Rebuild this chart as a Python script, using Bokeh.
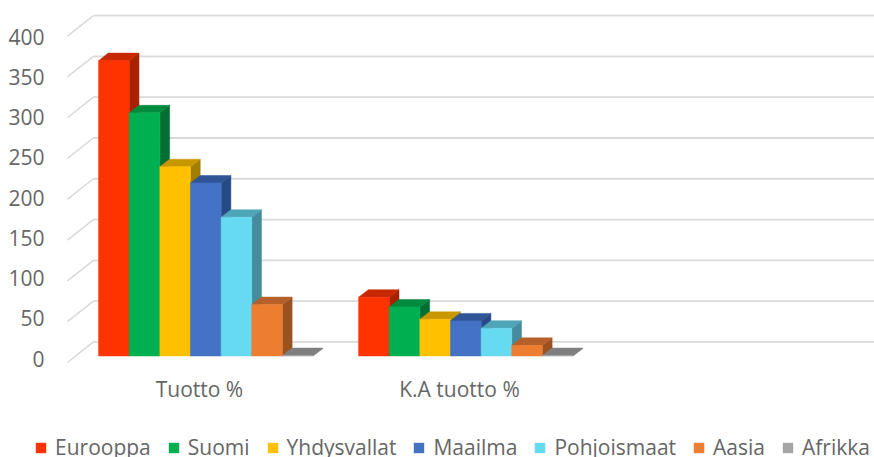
from bokeh.embed import file_html
from bokeh.resources import INLINE
from bokeh.layouts import column
from bokeh.plotting import figure
from bokeh.models import Range1d, LinearAxis, FixedTicker, Legend, LegendItem, Spacer

categories = ["Tuotto %", "K.A tuotto %"]
series = ["Eurooppa", "Suomi", "Yhdysvallat", "Maailma", "Pohjoismaat", "Aasia", "Afrikka"]
tuotto = [362, 298, 232, 212, 170, 63, 0.5]
ka_tuotto = [72, 60, 45, 43, 34, 13, 0.5]
y_ticks = [0, 50, 100, 150, 200, 250, 300, 350, 400]

front_colors = ["#FF3300", "#00B050", "#FFC000", "#4472C4", "#66DAF0", "#ED7D31", "#A5A5A5"]
top_colors = ["#C82800", "#008A3E", "#C89700", "#2F5597", "#4FA5B8", "#B5602A", "#7F7F7F"]
side_colors = ["#A82200", "#006F32", "#A07E00", "#264A85", "#458C9E", "#9C5220", "#7F7F7F"]

TEXT = "#666666"
GRID = "#D9D9D9"
FONT = "Open Sans"

# Box geometry in category units (x) and value units (y)
GROUP_START = -0.388
BAR_W = 0.1178
DEPTH_X = 0.0375
DEPTH_Y = 9.2
WALL_BACK_X, WALL_FRONT_X = -0.408, -0.508
WALL_BACK_Y, WALL_FRONT_Y = 17.2, -8.0

p = figure(
    width=874, height=430, frame_width=824, frame_height=370,
    output_backend="svg", toolbar_location=None,
    x_axis_location=None, y_axis_location=None,
    x_range=Range1d(-0.573, 2.596), y_range=Range1d(-17.8, 435.7),
    min_border=0, min_border_left=50, outline_line_color=None,
    background_fill_color="white", border_fill_color="white",
)
p.grid.visible = False

# Back wall rules and the receding strokes on the left side
for v in y_ticks:
    p.line([WALL_FRONT_X, WALL_BACK_X], [v + WALL_FRONT_Y, v + WALL_BACK_Y], line_color=GRID, line_width=1.5)
    p.line([WALL_BACK_X, p.x_range.end], [v + WALL_BACK_Y, v + WALL_BACK_Y], line_color=GRID, line_width=1.8)

# Extruded bars, left to right so each one covers its neighbour's side face
for g, values in enumerate([tuotto, ka_tuotto]):
    for s, v in enumerate(values):
        x0 = g + GROUP_START + s * BAR_W
        x1 = x0 + BAR_W
        p.patch([x1, x1 + DEPTH_X, x1 + DEPTH_X, x1], [0, DEPTH_Y, v + DEPTH_Y, v],
                fill_color=side_colors[s], line_color=side_colors[s], line_width=0.5)
        p.patch([x0, x0 + DEPTH_X, x1 + DEPTH_X, x1], [v, v + DEPTH_Y, v + DEPTH_Y, v],
                fill_color=top_colors[s], line_color=top_colors[s], line_width=0.5)
        p.quad(left=x0, right=x1, bottom=0, top=v, fill_color=front_colors[s],
               line_color=front_colors[s], line_width=0.5)

# Value axis on a slightly tighter scale than the wall
p.extra_y_ranges = {"labels": Range1d((358 - 370) / 0.805, 358 / 0.805)}
y_axis = LinearAxis(y_range_name="labels", ticker=FixedTicker(ticks=y_ticks),
                    axis_line_color=None, major_tick_line_color=None, minor_tick_line_color=None,
                    major_label_text_color=TEXT, major_label_text_font=FONT,
                    major_label_text_font_size="21px", major_label_standoff=0)
p.add_layout(y_axis, "left")

x_axis = LinearAxis(ticker=FixedTicker(ticks=[0, 1]),
                    major_label_overrides={i: c for i, c in enumerate(categories)},
                    axis_line_color=None, major_tick_line_color=None, minor_tick_line_color=None,
                    major_label_text_color=TEXT, major_label_text_font=FONT,
                    major_label_text_font_size="21px", major_label_standoff=-2)
p.add_layout(x_axis, "below")

# The key lives in its own strip so it can span the full page width
key = figure(
    width=874, height=27, output_backend="svg", toolbar_location=None,
    x_axis_location=None, y_axis_location=None,
    x_range=Range1d(0, 1), y_range=Range1d(0, 1),
    min_border=0, outline_line_color=None,
    background_fill_color="white", border_fill_color="white",
)
key.grid.visible = False
swatches = [key.quad(left=[2], right=[3], bottom=[2], top=[3], fill_color=c, line_color=None)
            for c in front_colors]
legend = Legend(items=[LegendItem(label=n, renderers=[r]) for n, r in zip(series, swatches)],
                orientation="horizontal", location=(34, -4),
                glyph_width=13, glyph_height=13, label_standoff=8, spacing=16,
                padding=0, margin=0, border_line_color=None, background_fill_color=None,
                label_text_color=TEXT, label_text_font=FONT, label_text_font_size="21px",
                label_height=20)
key.add_layout(legend)

page = column(p, Spacer(width=874, height=25), column(key, spacing=0), spacing=0)
open("out.html", "w").write(file_html(page, INLINE))
